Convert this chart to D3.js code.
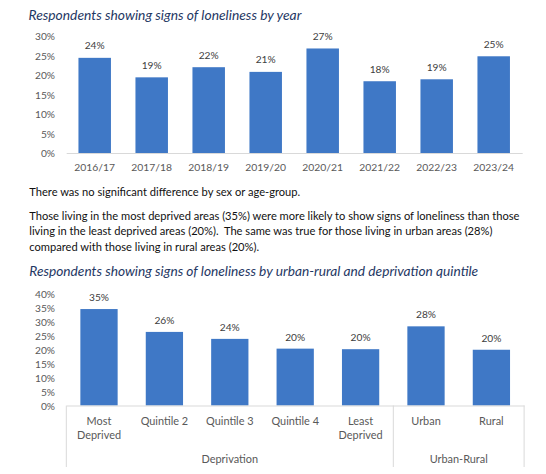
<!DOCTYPE html>
<html><head><meta charset="utf-8">
<script src="https://cdn.jsdelivr.net/npm/d3@7"></script>
<style>html,body{margin:0;padding:0;background:#fff} text{white-space:pre}</style>
</head><body><svg id="c" width="546" height="474"></svg>
<script>
// ---------- data ----------
const title1 = "Respondents showing signs of loneliness by year";
const years = ["2016/17","2017/18","2018/19","2019/20","2020/21","2021/22","2022/23","2023/24"];
const yearValues = [24.4, 19.4, 22.0, 20.8, 26.8, 18.4, 18.9, 24.8];
const yearTicks = [0, 5, 10, 15, 20, 25, 30];

const paragraph1 = ["There was no significant difference by sex or age-group."];
const paragraph2 = [
  "Those living in the most deprived areas (35%) were more likely to show signs of loneliness than those",
  "living in the least deprived areas (20%).  The same was true for those living in urban areas (28%)",
  "compared with those living in rural areas (20%)."
];

const title2 = "Respondents showing signs of loneliness by urban-rural and deprivation quintile";
const areaCategories = ["Most\nDeprived","Quintile 2","Quintile 3","Quintile 4","Least\nDeprived","Urban","Rural"];
const areaGroups = ["Deprivation","Deprivation","Deprivation","Deprivation","Deprivation","Urban-Rural","Urban-Rural"];
const areaValues = [34.6, 26.4, 23.9, 20.4, 20.2, 28.4, 20.0];
const areaTicks = [0, 5, 10, 15, 20, 25, 30, 35, 40];

// ---------- style ----------
const FONT = "Lato, 'Open Sans', sans-serif";
const BAR = "#3f78c6";
const AXIS = "#d9d9d9";
const TICK = "#595959";
const LABEL = "#404040";
const TITLE = "#1f3864";

const svg = d3.select("#c");
svg.append("rect").attr("width",546).attr("height",474).attr("fill","#fff");

function sizeFor(text, width, style) {
  const t = svg.append("text").attr("font-family", FONT).attr("font-size", 100)
    .attr("font-style", style || "normal").text(text);
  const w = t.node().getComputedTextLength();
  t.remove();
  return 100 * width / w;
}

const tickSize = sizeFor("30%", 20);
const valSize = sizeFor("24%", 20);
const cat1Size = sizeFor("2016/17", 40.7);
const cat2Size = sizeFor("Quintile 2", 47.6);
const bodySize = sizeFor(paragraph2[0], 490.5);
const t1Size = sizeFor(title1, 273, "italic");
const t2Size = sizeFor(title2, 449, "italic");

// ---------- titles & text ----------
svg.append("text").attr("x", 28.5).attr("y", 14.8).attr("dominant-baseline","central")
  .attr("font-family", FONT).attr("font-style","italic").attr("font-size", t1Size)
  .attr("fill", TITLE).text(title1);

svg.append("text").attr("x", 29.3).attr("y", 191.7).attr("dominant-baseline","central")
  .attr("font-family", FONT).attr("font-size", bodySize).attr("fill", "#111")
  .text(paragraph1[0]);

svg.selectAll("text.p2").data(paragraph2).join("text").attr("class","p2")
  .attr("x", 29.3).attr("y", (d,i) => 215 + i*15.6).attr("dominant-baseline","central")
  .attr("font-family", FONT).attr("font-size", bodySize).attr("fill", "#111")
  .text(d => d);

svg.append("text").attr("x", 29.3).attr("y", 270.3).attr("dominant-baseline","central")
  .attr("font-family", FONT).attr("font-style","italic").attr("font-size", t2Size)
  .attr("fill", TITLE).text(title2);

// ---------- chart 1 ----------
const g1 = svg.append("g");
const x1 = d3.scaleBand().domain(years).range([66.2, 522.2]).paddingInner(0.43).paddingOuter(0.215);
const y1 = d3.scaleLinear().domain([0, 30]).range([153, 36]);

const ax1 = g1.append("g").attr("transform","translate(66,0)")
  .call(d3.axisLeft(y1).tickValues(yearTicks).tickFormat(d => d + "%").tickSize(0).tickPadding(11));
ax1.select(".domain").remove();
ax1.selectAll("text").attr("font-family", FONT).attr("font-size", tickSize).attr("fill", TICK).attr("dy","0.35em");

g1.selectAll("rect.bar").data(years).join("rect").attr("class","bar")
  .attr("x", d => x1(d)).attr("width", x1.bandwidth())
  .attr("y", (d,i) => y1(yearValues[i])).attr("height", (d,i) => y1(0) - y1(yearValues[i]))
  .attr("fill", BAR);

const bx1 = g1.append("g").attr("transform", `translate(0,${y1(0)})`)
  .call(d3.axisBottom(x1).tickSize(0).tickSizeOuter(0));
bx1.select(".domain").attr("stroke", AXIS).attr("stroke-width", 1);
bx1.selectAll("text").attr("font-family", FONT).attr("font-size", cat1Size).attr("fill", TICK)
  .attr("y", 14.7).attr("dy", "0.35em");

g1.selectAll("text.val").data(years).join("text").attr("class","val")
  .attr("x", d => x1(d) + x1.bandwidth()/2).attr("y", (d,i) => y1(yearValues[i]) - 12)
  .attr("dy","0.35em").attr("text-anchor","middle")
  .attr("font-family", FONT).attr("font-size", valSize).attr("fill", LABEL)
  .text((d,i) => Math.round(yearValues[i]) + "%");

// ---------- chart 2 ----------
const g2 = svg.append("g");
const x2 = d3.scaleBand().domain(areaCategories).range([66.3, 524.1]).paddingInner(0.43).paddingOuter(0.215);
const y2 = d3.scaleLinear().domain([0, 40]).range([405.5, 294]);

const ax2 = g2.append("g").attr("transform","translate(66,0)")
  .call(d3.axisLeft(y2).tickValues(areaTicks).tickFormat(d => d + "%").tickSize(0).tickPadding(11));
ax2.select(".domain").remove();
ax2.selectAll("text").attr("font-family", FONT).attr("font-size", tickSize).attr("fill", TICK).attr("dy","0.35em");

g2.selectAll("rect.bar").data(areaCategories).join("rect").attr("class","bar")
  .attr("x", d => x2(d)).attr("width", x2.bandwidth())
  .attr("y", (d,i) => y2(areaValues[i])).attr("height", (d,i) => y2(0) - y2(areaValues[i]))
  .attr("fill", BAR);

const bx2 = g2.append("g").attr("transform", `translate(0,${y2(0)})`)
  .call(d3.axisBottom(x2).tickSize(0).tickSizeOuter(0).tickFormat(""));
bx2.select(".domain").attr("stroke", AXIS).attr("stroke-width", 1);
bx2.selectAll(".tick text").each(function(d) {
  const t = d3.select(this).text(null).attr("font-family", FONT).attr("font-size", cat2Size)
    .attr("fill", TICK).attr("y", 0).attr("dy", null);
  d.split("\n").forEach((line, k) => {
    t.append("tspan").attr("x", 0).attr("y", 15.2 + k*14.4).attr("dy","0.35em").text(line);
  });
});

// group boundaries and labels
const half = (x2.step() - x2.bandwidth()) / 2;
const groupNames = Array.from(new Set(areaGroups));
const groupSpans = groupNames.map(gname => {
  const cats = areaCategories.filter((c,i) => areaGroups[i] === gname);
  const left = x2(cats[0]) - half;
  const right = x2(cats[cats.length-1]) + x2.bandwidth() + half;
  return {name: gname, left, right};
});
const bounds = Array.from(new Set(groupSpans.flatMap(s => [s.left, s.right])));
g2.selectAll("line.sep").data(bounds).join("line").attr("class","sep")
  .attr("x1", d => d).attr("x2", d => d).attr("y1", y2(0)).attr("y2", 467)
  .attr("stroke", AXIS).attr("stroke-width", 1);
g2.selectAll("text.grp").data(groupSpans).join("text").attr("class","grp")
  .attr("x", d => (d.left + d.right)/2).attr("y", 459).attr("dy","0.35em").attr("text-anchor","middle")
  .attr("font-family", FONT).attr("font-size", cat2Size).attr("fill", TICK).text(d => d.name);

g2.selectAll("text.val").data(areaCategories).join("text").attr("class","val")
  .attr("x", d => x2(d) + x2.bandwidth()/2).attr("y", (d,i) => y2(areaValues[i]) - 11.5)
  .attr("dy","0.35em").attr("text-anchor","middle")
  .attr("font-family", FONT).attr("font-size", valSize).attr("fill", LABEL)
  .text((d,i) => Math.round(areaValues[i]) + "%");
</script></body></html>
